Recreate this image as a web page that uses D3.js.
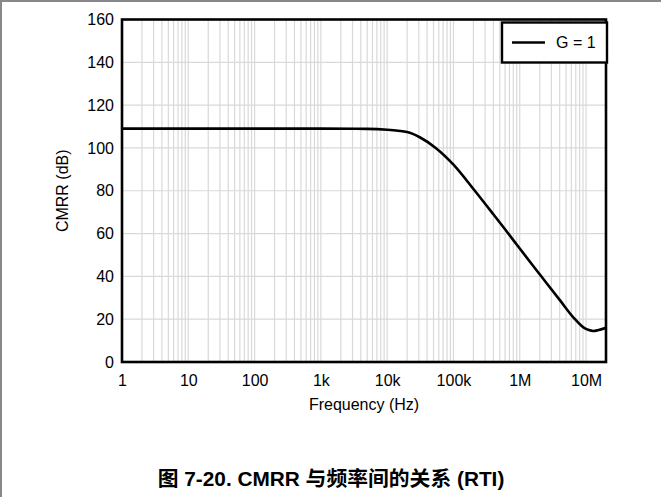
<!DOCTYPE html>
<html>
<head>
<meta charset="utf-8">
<script src="https://cdn.jsdelivr.net/npm/d3@7"></script>
<style>
  body { margin: 0; background: #fff; }
  svg { font-family: "Liberation Sans", Arial, "Noto Sans CJK SC", sans-serif; }
</style>
</head>
<body>
<div id="chartholder"></div>
<script>
// curve (G = 1)
var freqHz = [1, 10, 100, 1e3, 5e3, 1e4, 2e4, 3.1e4, 5.4e4, 1e5, 2.1e5, 4e5, 6e5, 1e6, 2.14e6, 4e6, 6.8e6, 9e6, 1.1e7, 1.28e7, 1.5e7, 2e7];
var cmrrDb = [109, 109, 109, 109, 108.9, 108.5, 107.4, 105, 100, 92.2, 80, 69, 62, 53, 39.8, 29, 20, 16.3, 14.9, 14.5, 14.8, 16];
var xTickVals = [1, 10, 100, 1e3, 1e4, 1e5, 1e6, 1e7];
var xTickLabels = ["1", "10", "100", "1k", "10k", "100k", "1M", "10M"];
var yTicks = [0, 20, 40, 60, 80, 100, 120, 140, 160];
var seriesName = "G = 1";

var W = 661, H = 497;
var margin = {top: 19.5, right: 55, bottom: 135, left: 122},
    width = W - margin.left - margin.right,
    height = H - margin.top - margin.bottom;

var svg = d3.select("#chartholder").append("svg")
    .attr("width", W).attr("height", H);

// page border (top and left)
svg.append("line").attr("x1", 0).attr("x2", W).attr("y1", 1).attr("y2", 1)
    .attr("stroke", "#888").attr("stroke-width", 2);
svg.append("line").attr("x1", 1).attr("x2", 1).attr("y1", 0).attr("y2", H)
    .attr("stroke", "#888").attr("stroke-width", 2);

var g = svg.append("g")
    .attr("transform", "translate(" + margin.left + "," + margin.top + ")");

var x = d3.scaleLog().domain([1, 2e7]).range([0, width]);
var y = d3.scaleLinear().domain([0, 160]).range([height, 0]);

// minor + major vertical grid
var gridX = [];
for (var dec = 1; dec <= 1e7; dec *= 10) {
  for (var m = 1; m <= 9; m++) {
    var v = dec * m;
    if (v > 1 && v < 2e7) gridX.push(v);
  }
}
g.selectAll(".vgrid").data(gridX).enter().append("line")
    .attr("class", "vgrid")
    .attr("x1", function(d) { return x(d); })
    .attr("x2", function(d) { return x(d); })
    .attr("y1", 0).attr("y2", height)
    .attr("stroke", "#d9d9d9").attr("stroke-width", 1.2);

g.selectAll(".hgrid").data(yTicks.slice(1, -1)).enter().append("line")
    .attr("class", "hgrid")
    .attr("x1", 0).attr("x2", width)
    .attr("y1", function(d) { return y(d); })
    .attr("y2", function(d) { return y(d); })
    .attr("stroke", "#d9d9d9").attr("stroke-width", 1.2);

// axes
var xAxis = g.append("g")
    .attr("transform", "translate(0," + height + ")")
    .call(d3.axisBottom(x).tickValues(xTickVals).tickSize(0).tickPadding(13)
      .tickFormat(function(d, i) { return xTickLabels[i]; }));
var yAxis = g.append("g")
    .call(d3.axisLeft(y).tickValues(yTicks).tickSize(0).tickPadding(8));
[xAxis, yAxis].forEach(function(a) {
  a.select(".domain").remove();
  a.selectAll("text").attr("font-size", 16).attr("fill", "#000")
    .attr("font-family", "Liberation Sans, Arial, sans-serif");
});

// curve
var line = d3.line()
    .x(function(d, i) { return x(freqHz[i]); })
    .y(function(d) { return y(d); })
    .curve(d3.curveMonotoneX);
g.append("path")
    .datum(cmrrDb)
    .attr("d", line)
    .attr("fill", "none")
    .attr("stroke", "#000")
    .attr("stroke-width", 2.6);

// frame
g.append("rect")
    .attr("x", 0).attr("y", 0).attr("width", width).attr("height", height)
    .attr("fill", "none").attr("stroke", "#000").attr("stroke-width", 2.6);

// legend
var lg = g.append("g").attr("transform", "translate(" + (width - 104) + ",3)");
lg.append("rect").attr("width", 105).attr("height", 40)
    .attr("fill", "#fff").attr("stroke", "#000").attr("stroke-width", 2.4);
lg.append("line").attr("x1", 10).attr("x2", 43).attr("y1", 20).attr("y2", 20)
    .attr("stroke", "#000").attr("stroke-width", 2.6);
lg.append("text").attr("x", 54).attr("y", 20).attr("dy", "0.35em")
    .attr("font-size", 16).text(seriesName);

// axis titles
svg.append("text")
    .attr("transform", "translate(62," + (margin.top + height / 2) + ") rotate(-90)")
    .attr("text-anchor", "middle").attr("dy", "0.35em")
    .attr("font-size", 16).text("CMRR (dB)");
svg.append("text")
    .attr("x", margin.left + width / 2).attr("y", 404).attr("dy", "0.35em")
    .attr("text-anchor", "middle").attr("font-size", 16).text("Frequency (Hz)");

// caption
svg.append("text")
    .attr("x", 331).attr("y", 486)
    .attr("text-anchor", "middle").attr("font-size", 20.8).attr("font-weight", "bold")
    .text("图 7-20. CMRR 与频率间的关系 (RTI)");
</script>
</body>
</html>
